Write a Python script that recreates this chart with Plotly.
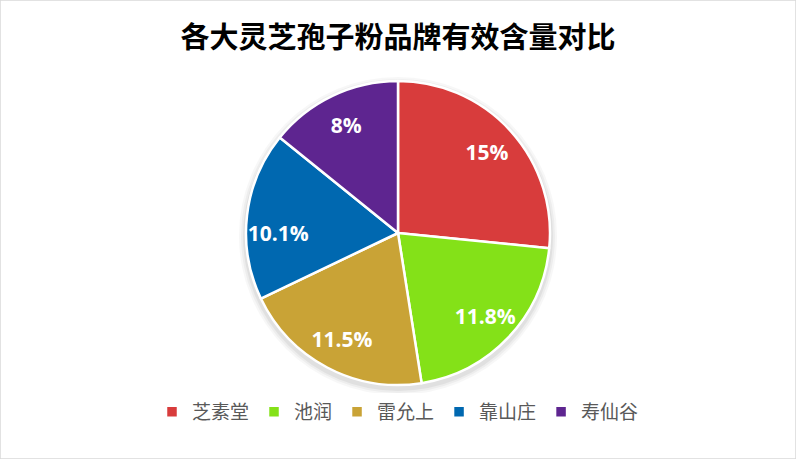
import plotly.graph_objects as go

# 各品牌有效含量 (%)
brands = ["芝素堂", "池润", "雷允上", "靠山庄", "寿仙谷"]
contents = [15, 11.8, 11.5, 10.1, 8]
colors = ["#d83c3c", "#84e118", "#c9a336", "#0068b0", "#5e2590"]

labels_txt = [f"{v}%" for v in contents]

W, H = 796, 459
cx, cy, R = 398, 233, 152  # pie centre / radius in px


def px_domain(cx, cy, r):
    return dict(x=[(cx - r) / W, (cx + r) / W], y=[1 - (cy + r) / H, 1 - (cy - r) / H])


pie_domain = px_domain(cx, cy, R)

fig = go.Figure()

# soft shadow under the pie
for grow, alpha in [(7, 0.03), (5, 0.04), (3, 0.05)]:
    fig.add_trace(go.Pie(
        values=[1],
        labels=["shadow"],
        textinfo="none",
        marker=dict(colors=[f"rgba(0,0,0,{alpha})"], line=dict(width=0)),
        domain=px_domain(cx, cy + 3, R + grow),
        showlegend=False,
        hoverinfo="skip",
        sort=False,
    ))

# base pie (colours + legend)
fig.add_trace(go.Pie(
    labels=brands,
    values=contents,
    textinfo="none",
    marker=dict(colors=colors, line=dict(color="white", width=2.5)),
    sort=False,
    direction="clockwise",
    rotation=0,
    domain=pie_domain,
    showlegend=True,
    hoverinfo="label+value",
))
# text-only ring so labels sit towards the outer edge
fig.add_trace(go.Pie(
    labels=brands,
    values=contents,
    text=labels_txt,
    textinfo="text",
    textposition="inside",
    insidetextorientation="horizontal",
    textfont=dict(family="Open Sans, Noto Sans", size=21, color="white", weight="bold"),
    marker=dict(colors=["rgba(0,0,0,0)"] * len(brands), line=dict(width=0)),
    sort=False,
    direction="clockwise",
    rotation=0,
    hole=0.58,
    domain=pie_domain,
    showlegend=False,
    hoverinfo="skip",
))

fig.update_layout(
    width=W,
    height=H,
    margin=dict(l=0, r=0, t=0, b=0),
    paper_bgcolor="white",
    plot_bgcolor="white",
    uniformtext=dict(minsize=21, mode="show"),
    title=dict(
        text="<b>各大灵芝孢子粉品牌有效含量对比</b>",
        x=0.5, xanchor="center",
        y=1 - 38 / H, yanchor="middle",
        font=dict(family="Noto Sans CJK SC", size=29, color="black"),
    ),
    legend=dict(
        orientation="h",
        x=0.5, xanchor="center",
        y=1 - 412 / H, yanchor="middle",
        font=dict(family="Noto Sans CJK SC", size=19, color="#595959"),
        itemwidth=30,
        traceorder="normal",
    ),
    shapes=[dict(type="rect", xref="paper", yref="paper", x0=0, x1=1, y0=0, y1=1,
                 line=dict(color="#d9d9d9", width=1.5))],
)

fig.write_html("out.html", config={"displayModeBar": False},
               post_script="document.body.style.margin='0';")
